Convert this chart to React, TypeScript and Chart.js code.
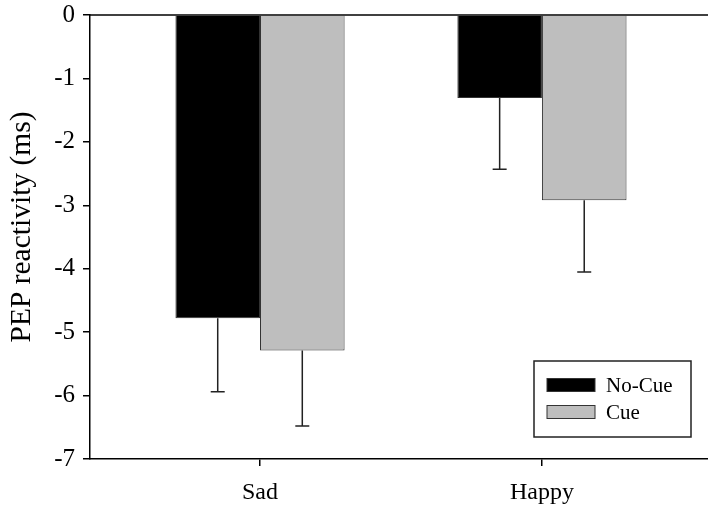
import React, { useEffect, useRef } from 'react';
import { Chart, registerables } from 'chart.js';

Chart.register(...registerables);

const categories = ['Sad', 'Happy'];
const seriesLabels = ['No-Cue', 'Cue'];
const noCueMeans = [-4.78, -1.31];
const cueMeans = [-5.29, -2.92];
const noCueErr = [1.16, 1.12];
const cueErr = [1.19, 1.13];
const yTickValues = [0, -1, -2, -3, -4, -5, -6, -7];
const yTitle = 'PEP reactivity (ms)';

const FONT = "'Liberation Serif', 'Times New Roman', serif";
const fills = ['#000000', '#bebebe'];
const errs = [noCueErr, cueErr];

const topLinePlugin = {
  id: 'topLine',
  afterDraw(chart: any) {
    const { ctx, chartArea } = chart;
    ctx.save();
    ctx.strokeStyle = '#000';
    ctx.lineWidth = 1.5;
    ctx.beginPath();
    ctx.moveTo(chartArea.left, chartArea.top);
    ctx.lineTo(chartArea.right, chartArea.top);
    ctx.stroke();
    ctx.restore();
  },
};

const errorBarPlugin = {
  id: 'errorBars',
  afterDatasetsDraw(chart: any) {
    const { ctx } = chart;
    const yScale = chart.scales.y;
    ctx.save();
    ctx.strokeStyle = '#222';
    ctx.lineWidth = 1.5;
    chart.data.datasets.forEach((ds: any, i: number) => {
      const meta = chart.getDatasetMeta(i);
      meta.data.forEach((bar: any, j: number) => {
        const v = ds.data[j].y;
        const e = errs[i][j];
        const y0 = bar.y;
        const y1 = yScale.getPixelForValue(v - e);
        ctx.beginPath();
        ctx.moveTo(bar.x, y0);
        ctx.lineTo(bar.x, y1);
        ctx.moveTo(bar.x - 7, y1);
        ctx.lineTo(bar.x + 7, y1);
        ctx.stroke();
      });
    });
    ctx.restore();
  },
};

const legendBoxPlugin = {
  id: 'legendBox',
  afterDraw(chart: any) {
    const { ctx } = chart;
    const bx = 534, by = 361, bw = 157, bh = 76;
    ctx.save();
    ctx.strokeStyle = '#222';
    ctx.lineWidth = 1.5;
    ctx.strokeRect(bx, by, bw, bh);
    ctx.font = `21px ${FONT}`;
    ctx.textBaseline = 'middle';
    ctx.textAlign = 'left';
    chart.data.datasets.forEach((ds: any, i: number) => {
      const cy = 385 + i * 27;
      ctx.fillStyle = ds.backgroundColor;
      ctx.fillRect(547, cy - 6.5, 48, 13);
      ctx.strokeStyle = '#333';
      ctx.lineWidth = 1;
      ctx.strokeRect(547, cy - 6.5, 48, 13);
      ctx.fillStyle = '#000';
      ctx.fillText(ds.label, 606, cy + 1);
    });
    ctx.restore();
  },
};

const yTitlePlugin = {
  id: 'yTitle',
  afterDraw(chart: any) {
    const { ctx } = chart;
    ctx.save();
    ctx.translate(22, 227);
    ctx.rotate(-Math.PI / 2);
    ctx.font = `29.5px ${FONT}`;
    ctx.fillStyle = '#000';
    ctx.textAlign = 'center';
    ctx.textBaseline = 'middle';
    ctx.fillText(yTitle, 0, 0);
    ctx.restore();
  },
};

export default function App() {
  const ref = useRef<HTMLCanvasElement | null>(null);

  useEffect(() => {
    document.body.style.margin = '0';
    if (!ref.current) return;
    const datasets = seriesLabels.map((label, i) => ({
      label,
      data: (i === 0 ? noCueMeans : cueMeans).map((v, j) => ({ x: j + 1, y: v })),
      backgroundColor: fills[i],
      borderColor: '#333',
      borderWidth: 1,
      categoryPercentage: 0.6,
      barPercentage: 1.0,
    }));
    const chart = new Chart(ref.current, {
      type: 'bar',
      data: { datasets },
      options: {
        responsive: false,
        animation: false,
        layout: { padding: 0 },
        plugins: { legend: { display: false }, tooltip: { enabled: false } },
        scales: {
          x: {
            type: 'linear',
            offset: false,
            min: 0.397,
            max: 2.589,
            afterBuildTicks(scale: any) {
              scale.ticks = categories.map((_, j) => ({ value: j + 1 }));
            },
            afterFit(scale: any) {
              scale.height = 48;
              scale.paddingLeft = 0;
              scale.paddingRight = 0;
            },
            ticks: {
              callback: (v: any) => categories[Number(v) - 1] ?? '',
              font: { family: FONT, size: 24 },
              color: '#000',
              padding: 12,
              maxRotation: 0,
              autoSkip: false,
            },
            grid: { offset: false, drawOnChartArea: false, tickLength: 7, color: '#000', lineWidth: 1.5 },
            border: { display: true, color: '#000', width: 1.5 },
          },
          y: {
            type: 'linear',
            min: -7,
            max: 0,
            afterBuildTicks(scale: any) {
              scale.ticks = yTickValues.map((v) => ({ value: v }));
            },
            afterFit(scale: any) {
              scale.width = 90;
              scale.paddingTop = 15;
              scale.paddingBottom = 0;
            },
            ticks: {
              font: { family: FONT, size: 25 },
              color: '#000',
              padding: 8,
            },
            grid: { drawOnChartArea: false, tickLength: 7, color: '#000', lineWidth: 1.5 },
            border: { display: true, color: '#000', width: 1.5 },
          },
        },
      },
      plugins: [topLinePlugin, errorBarPlugin, legendBoxPlugin, yTitlePlugin],
    } as any);
    return () => chart.destroy();
  }, []);

  return (
    <div style={{ width: 708, height: 507 }}>
      <canvas ref={ref} width={708} height={507} />
    </div>
  );
}
